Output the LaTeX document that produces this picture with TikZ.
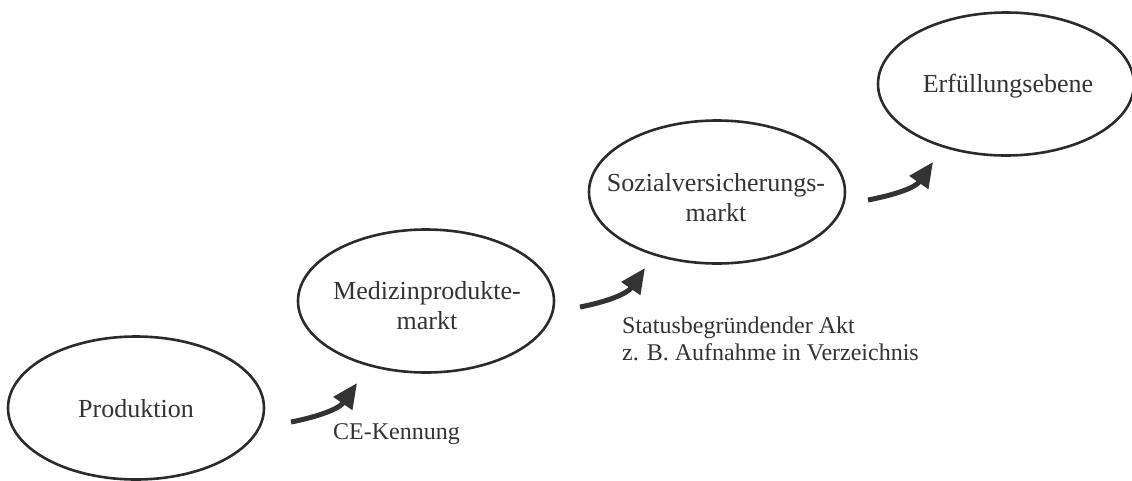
\documentclass[tikz,border=0pt]{standalone}
\usepackage{fontspec}
\setmainfont{Liberation Serif}
\usetikzlibrary{shapes.geometric,arrows.meta,calc}
\definecolor{ink}{HTML}{2B2B2B}
\definecolor{txtc}{HTML}{333333}
\tikzset{
  bubble/.style={ellipse, draw=ink, line width=2.6pt, minimum width=256pt, minimum height=143pt, inner sep=0pt},
  etext/.style={text=txtc, inner sep=0pt, font=\fontsize{26}{30}\selectfont, align=center},
  ltext/.style={text=txtc, inner sep=0pt, font=\fontsize{24}{27}\selectfont, align=left, anchor=base west},
  bigarrow/.style={draw=txtc, line width=5pt, -{Triangle[length=25pt,width=22pt]}}
}
\begin{document}
\begin{tikzpicture}[x=1pt,y=-1pt]
\useasboundingbox (0,0) rectangle (1132,480);
% ellipses
\node[bubble] (P) at (136,408) {};
\node[bubble] (M) at (426,301) {};
\node[bubble] (S) at (717,192) {};
\node[bubble] (E) at (1006,84) {};
% texts (base anchor = baseline of the last line)
\node[etext, anchor=base] (Pt) at (136,417) {Produktion};
\node[etext, anchor=base] (Mt) at (427,329) {Medizinprodukte-\\markt};
\node[etext, anchor=base] (St) at (716,221) {Sozialversicherungs-\\markt};
\node[etext, anchor=base] (Et) at (1008,92) {Erfüllungsebene};
% arrow end points
\coordinate (a1s) at (291,422);
\coordinate (a1e) at (357,383);
\coordinate (a2s) at (580,307);
\coordinate (a2e) at (645,268);
\coordinate (a3s) at (868,200);
\coordinate (a3e) at (933,162);
\draw[bigarrow] (a1s) .. controls ($(a1s)+(26,-5)$) and ($(a1e)+(-18,26)$) .. (a1e);
\draw[bigarrow] (a2s) .. controls ($(a2s)+(26,-5)$) and ($(a2e)+(-18,26)$) .. (a2e);
\draw[bigarrow] (a3s) .. controls ($(a3s)+(26,-5)$) and ($(a3e)+(-18,26)$) .. (a3e);
% labels
\node[ltext] (L1) at (333,439) {CE-Kennung};
\node[ltext] (L2) at (622,360) {Statusbegründender Akt\\z. B. Aufnahme in Verzeichnis};
\end{tikzpicture}
\end{document}
